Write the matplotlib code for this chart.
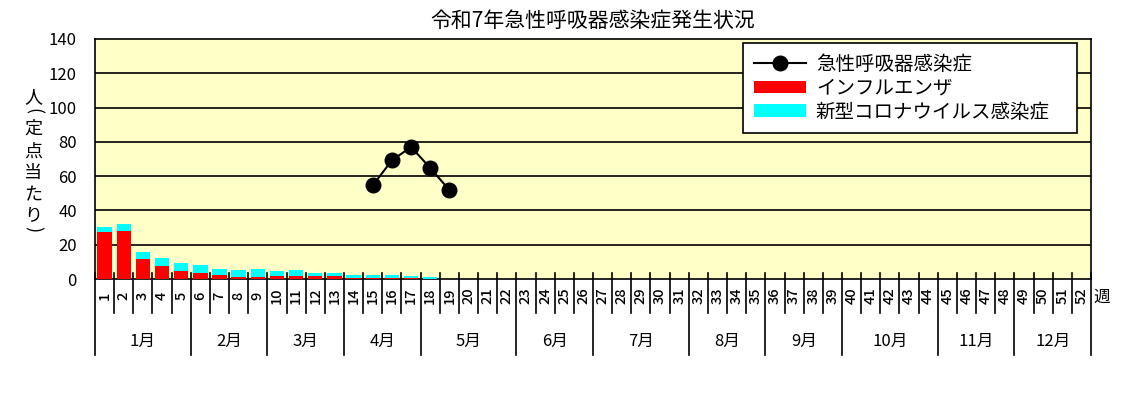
import matplotlib
matplotlib.use("Agg")
import matplotlib.pyplot as plt
from matplotlib.lines import Line2D
from matplotlib.patches import Patch
import matplotlib.transforms as mtransforms

plt.rcParams['font.family'] = ['Noto Sans CJK JP', 'DejaVu Sans']

title = "令和7年急性呼吸器感染症発生状況"
weeks = list(range(1, 53))
flu = [27.6, 28.2, 11.8, 7.7, 4.8, 3.7, 2.5, 1.3, 1.3, 1.9, 1.9, 1.9, 1.9, 0.6, 0.6, 0.6, 0.6, 0.1, 0.0]
covid = [2.9, 4.1, 4.1, 4.7, 4.7, 4.6, 3.5, 4.1, 4.7, 2.9, 3.5, 1.8, 1.8, 1.7, 1.7, 1.7, 1.2, 1.1, 0.0]
ari_weeks = [15, 16, 17, 18, 19]
ari = [54.6, 69.2, 77.0, 64.8, 51.9]
months = ["1月", "2月", "3月", "4月", "5月", "6月", "7月", "8月", "9月", "10月", "11月", "12月"]
month_weeks = [5, 4, 4, 4, 5, 4, 5, 4, 4, 5, 4, 4]
yticks = [0, 20, 40, 60, 80, 100, 120, 140]
legend_labels = ["急性呼吸器感染症", "インフルエンザ", "新型コロナウイルス感染症"]
ylabel_chars = ["人", "(", "定", "点", "当", "た", "り", ")"]

W, H = 1123, 394
fig = plt.figure(figsize=(W / 100, H / 100), dpi=100)
L, R, T, B = 95, 1091, 39, 279
ax = fig.add_axes([L / W, 1 - B / H, (R - L) / W, (B - T) / H])
ax.set_facecolor('#FFFFC8')

flu_w = weeks[:len(flu)]
ax.bar(flu_w, flu, width=0.75, color='#FF0000', zorder=3)
ax.bar(flu_w, covid, width=0.75, bottom=flu, color='#00FFFF', zorder=3)
ax.plot(ari_weeks, ari, color='black', lw=1.5, marker='o', markersize=10.5, zorder=4)

ax.set_xlim(0.5, 52.5)
ax.set_ylim(0, 140)
ax.set_yticks(yticks)
ax.set_yticklabels([str(v) for v in yticks], fontsize=12)
ax.tick_params(axis='y', length=0, pad=13)
ax.set_xticks([])
for v in yticks[1:-1]:
    ax.axhline(v, color='black', lw=1.2, zorder=2)
for s in ax.spines.values():
    s.set_color('black')
    s.set_linewidth(1.2)

# category table below
trans = mtransforms.blended_transform_factory(ax.transData, ax.transAxes)
px = 1.0 / (B - T)
week_bottom = -34 * px
month_bottom = -76 * px
month_bounds = [0]
for n in month_weeks:
    month_bounds.append(month_bounds[-1] + n)
for k in range(53):
    x = k + 0.5
    if k in month_bounds:
        ax.plot([x, x], [6 * px, month_bottom], transform=trans, color='black', lw=1.2, clip_on=False, zorder=5)
    else:
        ax.plot([x, x], [6 * px, week_bottom], transform=trans, color='black', lw=1.2, clip_on=False, zorder=5)
for w in weeks:
    ax.text(w, -17 * px, str(w), transform=trans, rotation=90, ha='center', va='center',
            fontsize=10.5, fontweight='medium')
for i, m in enumerate(months):
    xc = (month_bounds[i] + month_bounds[i + 1]) / 2 + 0.5
    ax.text(xc, -62 * px, m, transform=trans, ha='center', va='center', fontsize=12)
fig.text(1102 / W, 1 - 297 / H, "週", ha='center', va='center', fontsize=12)

# y label (vertical, stacked characters; brackets turned for vertical writing)
ylabel_y = [97, 111, 129, 152, 173, 195, 215, 229]
for ch, yy in zip(ylabel_chars, ylabel_y):
    if ch in "()":
        fig.text(33 / W, 1 - yy / H, ch, ha='center', va='center', fontsize=13, rotation=270)
    else:
        fig.text(33 / W, 1 - yy / H, ch, ha='center', va='center', fontsize=13)

fig.text((L + R) / 2 / W, 1 - 21 / H, title, ha='center', va='center', fontsize=15)

handles = [Line2D([0], [0], color='black', lw=1.5, marker='o', markersize=10.5),
           Patch(facecolor='#FF0000'), Patch(facecolor='#00FFFF')]
leg = ax.legend(handles, legend_labels, loc='upper left', mode='expand',
                bbox_to_anchor=((743 - L) / (R - L), (B - 128) / (B - T), (1077 - 743) / (R - L), (128 - 43) / (B - T)),
                fontsize=14, frameon=True, fancybox=False, framealpha=1, edgecolor='black',
                handlelength=2.7, handleheight=0.6, borderpad=0.55, labelspacing=0.15, handletextpad=0.5,
                borderaxespad=0)
leg.get_frame().set_linewidth(1.2)
leg.set_zorder(10)

fig.savefig("out.png", dpi=100)
